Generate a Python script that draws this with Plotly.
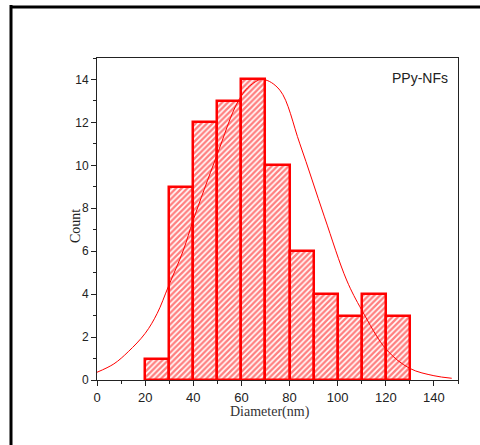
import plotly.graph_objects as go

# Histogram data
bin_centers = [25, 35, 45, 55, 65, 75, 85, 95, 105, 115, 125]
counts = [1, 9, 12, 13, 14, 10, 6, 4, 3, 4, 3]
bin_width = 10

# Fit curve points
fit_x = [0, 7, 13, 20, 25, 29.6, 35.9, 40, 49.7, 58.7, 64, 69, 76, 84.3, 94.5, 103.7, 110, 120.4, 130, 140, 147.4]
fit_y = [0.36, 0.75, 1.32, 2.17, 3.1, 4.34, 6.05, 7.45, 10.43, 13.0, 13.75, 14.0, 13.5, 11.0, 7.6, 4.66, 3.26, 1.40, 0.54, 0.2, 0.08]

x_ticks = [0, 20, 40, 60, 80, 100, 120, 140]
y_ticks = [0, 2, 4, 6, 8, 10, 12, 14]

RED = "#ff0000"

fig = go.Figure()
fig.add_trace(go.Scatter(x=fit_x, y=fit_y, mode="lines",
                         line=dict(color=RED, width=1, shape="spline", smoothing=1.0),
                         hoverinfo="skip", showlegend=False))
fig.add_trace(go.Bar(x=bin_centers, y=counts, width=[bin_width] * len(counts),
                     marker=dict(color="rgba(0,0,0,0)",
                                 line=dict(color=RED, width=2.5),
                                 pattern=dict(shape="/", fgcolor=RED, bgcolor="rgba(0,0,0,0)",
                                              size=4, solidity=0.6, fillmode="overlay")),
                     showlegend=False))

L, R, T, B = 97, 22, 58, 65
W, H = 480, 445
pw, ph = W - L - R, H - T - B

fig.update_layout(
    width=W, height=H,
    margin=dict(l=L, r=R, t=T, b=B),
    paper_bgcolor="white", plot_bgcolor="white",
    bargap=0,
    font=dict(family="Liberation Sans, Arial", size=12, color="#222"),
    xaxis=dict(range=[0, 150], tickvals=x_ticks, ticks="outside", ticklen=5, tickwidth=1,
               tickcolor="#222", showline=True, linecolor="#222", linewidth=1, mirror=True,
               showgrid=False, zeroline=False,
               minor=dict(dtick=10, ticks="outside", ticklen=3, tickcolor="#222", showgrid=False),
               tickfont=dict(size=13)),
    yaxis=dict(range=[0, 15], tickvals=y_ticks, ticks="outside", ticklen=5, tickwidth=1,
               tickcolor="#222", showline=True, linecolor="#222", linewidth=1, mirror=True,
               showgrid=False, zeroline=False,
               minor=dict(dtick=1, ticks="outside", ticklen=3, tickcolor="#222", showgrid=False),
               tickfont=dict(size=12)),
    annotations=[
        dict(text="PPy-NFs", x=(420 - L) / pw, y=(H - B - 78) / ph, xref="paper", yref="paper",
             yanchor="middle", xanchor="center",
             showarrow=False, font=dict(family="Liberation Sans, Arial", size=14, color="#222")),
        dict(text="Diameter(nm)", x=(270 - L) / pw, y=(H - B - 412) / ph, xref="paper", yref="paper",
             yanchor="middle", xanchor="center",
             showarrow=False, font=dict(family="Liberation Serif, Times New Roman", size=14, color="#333")),
        dict(text="Count", x=(75 - L) / pw, y=(H - B - 226) / ph, xref="paper", yref="paper",
             yanchor="middle", xanchor="center",
             showarrow=False, textangle=-90,
             font=dict(family="Liberation Serif, Times New Roman", size=14, color="#222")),
    ],
    shapes=[
        dict(type="line", xref="paper", yref="paper", layer="above",
             x0=(11 - L) / pw, x1=(11 - L) / pw, y0=(H - B - 5) / ph, y1=(H - B - 460) / ph,
             line=dict(color="black", width=3)),
        dict(type="line", xref="paper", yref="paper", layer="above",
             x0=(10 - L) / pw, x1=(495 - L) / pw, y0=(H - B - 7) / ph, y1=(H - B - 7) / ph,
             line=dict(color="black", width=3)),
    ],
)

fig.write_html("out.html", config={"displayModeBar": False},
               post_script="document.body.style.margin='0';document.body.style.overflow='hidden';")
